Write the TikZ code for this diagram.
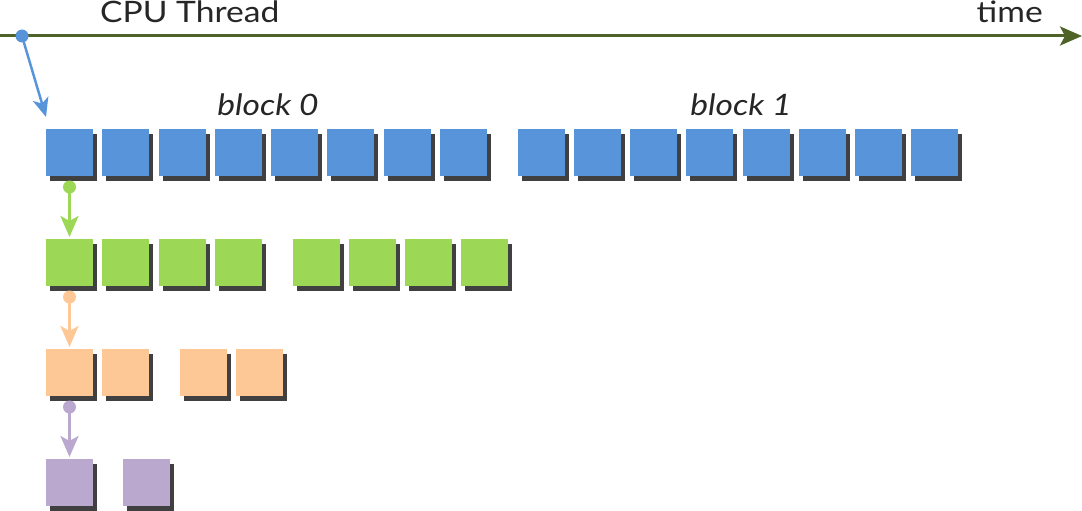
\documentclass[tikz,border=0pt]{standalone}
\usepackage{fontspec}
\setmainfont[FakeStretch=1.14]{Lato}
\usetikzlibrary{arrows.meta,shadows}
\definecolor{cblue}{HTML}{5794DA}
\definecolor{cgreen}{HTML}{9CD855}
\definecolor{corange}{HTML}{FEC896}
\definecolor{cpurple}{HTML}{BBA8CF}
\definecolor{cshadow}{HTML}{404040}
\definecolor{caxis}{HTML}{4F6228}
\tikzset{
  sq/.style={fill=#1, minimum size=47pt, inner sep=0pt, outer sep=0pt,
    drop shadow={shadow xshift=4pt, shadow yshift=-5pt, fill=cshadow, opacity=1}},
  dot/.style={circle, fill=#1, minimum size=13pt, inner sep=0pt},
  flow/.style={draw=#1, line width=3pt, -{Stealth[length=21pt, width=18pt, inset=5pt]}},
  lbl/.style={font=\fontsize{29.5}{34}\selectfont, inner sep=0pt, text=black!85},
  blk/.style={font=\fontsize{29.5}{34}\selectfont\itshape, inner sep=0pt, text=black!85},
}
\begin{document}
\begin{tikzpicture}[x=1pt,y=-1pt]
\useasboundingbox (0,0) rectangle (1082,511);
% time axis
\coordinate (axs) at (0,36);
\coordinate (axe) at (1082,36);
\draw[caxis, line width=3pt, -{Stealth[length=22pt, width=19pt, inset=5pt]}] (axs) -- (axe);
\node[lbl, anchor=base west] (cpu) at (100,23) {CPU Thread};
\node[lbl, anchor=base east] (time) at (1043,23) {time};
\node[blk, anchor=base] (b0) at (268,115) {block 0};
\node[blk, anchor=base] (b1) at (741,115) {block 1};
% blue row
\foreach \i in {0,...,7} {
  \node[sq=cblue] (ba\i) at ({46+23.5+\i*56.25},152.5) {};
  \node[sq=cblue] (bb\i) at ({517.5+23.5+\i*56.25},152.5) {};
}
% green row
\foreach \i in {0,...,3} {
  \node[sq=cgreen] (ga\i) at ({46+23.5+\i*56.25},262.5) {};
  \node[sq=cgreen] (gb\i) at ({292.5+23.5+\i*56.25},262.5) {};
}
% orange row
\foreach \i in {0,1} {
  \node[sq=corange] (oa\i) at ({46+23.5+\i*56.25},372.5) {};
  \node[sq=corange] (ob\i) at ({179.5+23.5+\i*56.25},372.5) {};
}
% purple row
\node[sq=cpurple] (pa0) at (69.5,482.5) {};
\node[sq=cpurple] (pb0) at (146.5,482.5) {};
% connectors
\node[dot=cblue] (d0) at (22,36) {};
\coordinate (t0) at (46,117);
\draw[cblue, line width=2.5pt, -{Stealth[length=19pt, width=16pt, inset=5pt]}] (d0.center) -- (t0);
\node[dot=cgreen] (d1) at (69.5,187) {};
\draw[flow=cgreen, shorten >=2pt] (d1.center) -- (ga0.north);
\node[dot=corange] (d2) at (69.5,297) {};
\draw[flow=corange, shorten >=2pt] (d2.center) -- (oa0.north);
\node[dot=cpurple] (d3) at (69.5,407) {};
\draw[flow=cpurple, shorten >=2pt] (d3.center) -- (pa0.north);
\end{tikzpicture}
\end{document}
